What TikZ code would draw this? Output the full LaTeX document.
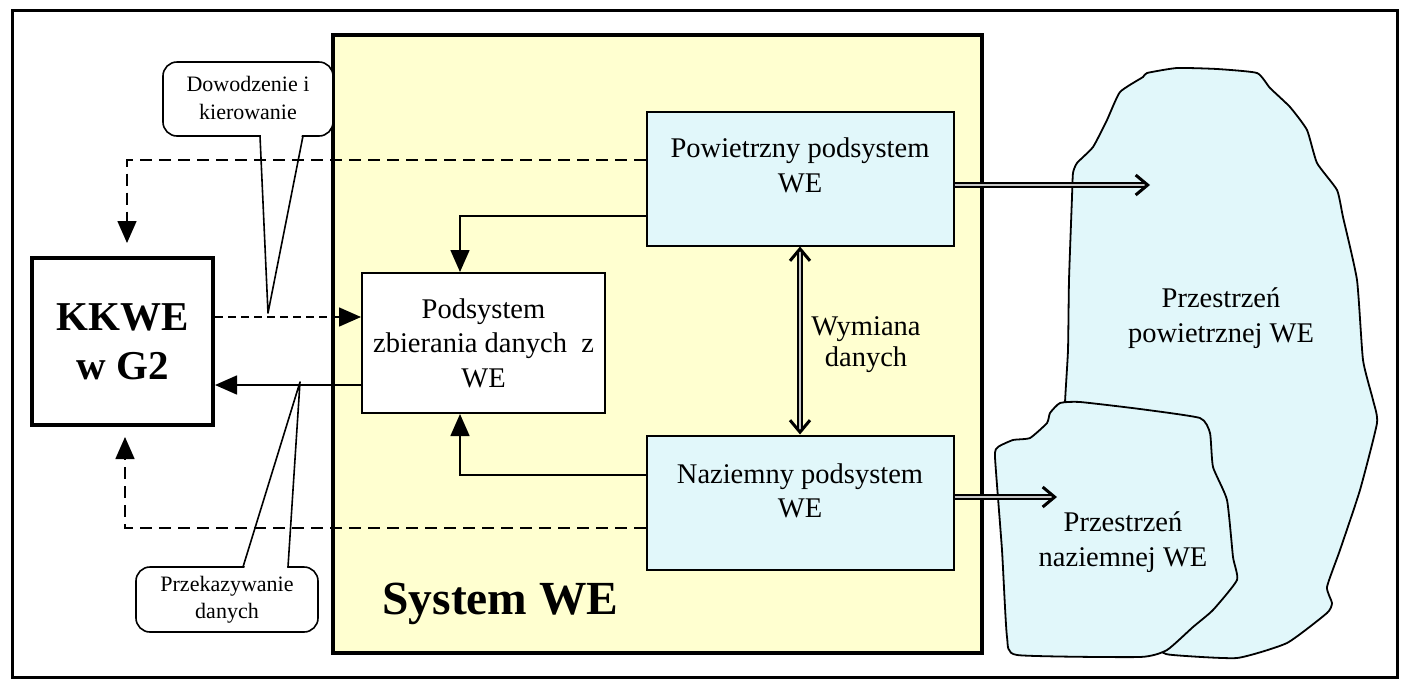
\documentclass[tikz,border=0pt]{standalone}
\usepackage{fontspec}
\setmainfont{Liberation Serif}
\usetikzlibrary{arrows.meta}

\definecolor{sysyellow}{RGB}{255,255,208}
\definecolor{skyfill}{RGB}{225,247,250}

\begin{document}
\begin{tikzpicture}[x=1pt, y=-1pt,
    boxtext/.style={align=center, inner sep=0pt, font=\fontsize{28.5}{34.5}\selectfont},
    smalltext/.style={align=center, inner sep=0pt, font=\fontsize{22}{27.5}\selectfont},
    subbox/.style={draw, line width=2pt, fill=skyfill, minimum width=307pt, minimum height=134pt, inner sep=0pt},
    arr/.style={line width=1.6pt, -{Triangle[length=22pt, width=19pt]}},
    dasharr/.style={arr, dash pattern=on 12pt off 7pt},
    dasharrshort/.style={arr, dash pattern=on 8pt off 5pt},
    barb/.tip={Straight Barb[length=12pt, width=20pt, line width=3pt]},
    dblarr/.style={draw, line width=1.4pt, double=gray!45, double distance=2.4pt, -barb},
    callout/.style={draw, line width=1.6pt, fill=white, rounded corners=14pt},
    wedge/.style={draw, line width=1.6pt, line join=round},
    blob/.style={draw, line width=1.8pt, fill=skyfill, line join=round}
]

    \useasboundingbox (0,0) rectangle (1409,681);

    % ramka
    \draw[line width=3pt] (12,10) rectangle (1397,677);

    % System WE
    \node[draw, line width=3.5pt, fill=sysyellow, minimum width=649pt, minimum height=618pt, inner sep=0pt] (sys) at (657.5,344) {};
    \node[inner sep=0pt, font=\bfseries\fontsize{47.5}{50}\selectfont] (systxt) at (500.5,603.5) {System WE};

    % dymki
    \draw[callout] (163,62) rectangle (333,136);
    \fill[white] (261,134) -- (268,313) -- (302,134) -- cycle;
    \draw[wedge] (260,136) -- (268,313) -- (303,136);
    \node[smalltext] (dow) at (248,98) {Dowodzenie i\\kierowanie};
    \draw[callout] (136,567) rectangle (318,632);
    \fill[white] (244,569) -- (300,382) -- (287,569) -- cycle;
    \draw[wedge] (243,567) -- (300,382) -- (288,567);
    \node[smalltext] (prz) at (227,599.5) {Przekazywanie\\danych};

    % przestrzenie WE
    \draw[blob] plot[smooth cycle, tension=0.3] coordinates {(1120,92) (1143,77) (1147,73) (1177,68) (1217,69)
        (1257,73) (1270,88) (1290,107) (1307,130) (1317,163) (1337,190) (1343,217) (1357,280) (1363,360)
        (1373,400) (1377,423) (1360,490) (1340,550) (1327,587) (1332,603) (1327,613) (1287,643) (1237,658)
        (1173,655) (1160,650) (1120,600) (1065,450) (1065,403) (1068,350) (1069,280) (1072,197) (1073,173)
        (1077,163) (1093,147) (1107,120)};
    \draw[blob] plot[smooth cycle, tension=0.3] coordinates {(1030,438) (1047,423) (1050,413) (1060,403)
        (1080,402) (1140,409) (1200,418) (1210,433) (1213,467) (1227,500) (1233,557) (1237,580) (1213,610)
        (1193,627) (1167,650) (1140,657) (1017,655) (1007,637) (1002,550) (995,457) (998,447) (1013,440)};
    \node[boxtext] (airtxt) at (1221,318) {Przestrzeń\\powietrznej WE};
    \node[boxtext] (gndtxt) at (1123,542) {Przestrzeń\\naziemnej WE};

    % bloki
    \node[draw, line width=4pt, fill=white, minimum width=181pt, minimum height=167pt, inner sep=0pt,
        align=center, font=\bfseries\fontsize{41}{49}\selectfont] (kkwe) at (122.5,341.5) {KKWE\\w G2};
    \node[draw, line width=2pt, fill=white, minimum width=243pt, minimum height=140pt, boxtext] (pod)
        at (483.5,343) {Podsystem\\zbierania danych\ \ z\\WE};
    \node[subbox] (pow) at (800,178.5) {};
    \node[boxtext] (powtxt) at ([yshift=13pt]pow.center) {Powietrzny podsystem\\WE};
    \node[subbox] (naz) at (800,502.5) {};
    \node[boxtext] (naztxt) at ([yshift=11.5pt]naz.center) {Naziemny podsystem\\WE};

    % przeplyw danych
    \coordinate (k1) at ([yshift=24.5pt]kkwe.east);
    \draw[dasharrshort] (k1) -- (k1 -| pod.west);
    \coordinate (p1) at ([yshift=-42pt]pod.west);
    \draw[arr] (p1) -- (p1 -| kkwe.east);
    \draw[dasharr] ([yshift=18.5pt]pow.west) -| ([xshift=4.5pt,yshift=13pt]kkwe.north);
    \draw[dasharr] ([yshift=-25.5pt]naz.west) -| ([xshift=2.5pt,yshift=-10pt]kkwe.south);
    \draw[arr] ([yshift=-37.5pt]pow.west) -| ([xshift=-23.5pt]pod.north);
    \draw[arr] ([yshift=27.5pt]naz.west) -| ([xshift=-23.5pt]pod.south);

    % wymiana danych
    \draw[dblarr, barb-barb] (pow.south) -- (naz.north);
    \node[boxtext, font=\fontsize{28.5}{31}\selectfont] (wym) at (866,345) {Wymiana\\danych};

    % do przestrzeni
    \coordinate (airtip) at (1150,185);
    \draw[dblarr] (airtip -| pow.east) -- (airtip);
    \coordinate (gndtip) at (1057,497);
    \draw[dblarr] (gndtip -| naz.east) -- (gndtip);

\end{tikzpicture}
\end{document}
